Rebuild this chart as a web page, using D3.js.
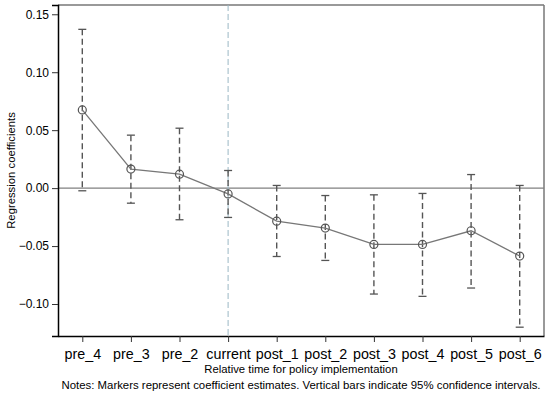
<!DOCTYPE html>
<html>
<head>
<meta charset="utf-8">
<script src="https://cdn.jsdelivr.net/npm/d3@7"></script>
<style>
  body { margin: 0; background: #fff; }
  text { font-family: "Liberation Sans", Arial, sans-serif; fill: #000; }
</style>
</head>
<body>
<script>
// event-study estimates
var periods = ["pre_4", "pre_3", "pre_2", "current", "post_1", "post_2", "post_3", "post_4", "post_5", "post_6"];
var coef  = [0.0675, 0.0164, 0.0120, -0.0050, -0.0285, -0.0345, -0.0486, -0.0486, -0.0368, -0.0586];
var upper = [0.1370, 0.0457, 0.0517, 0.0152, 0.0023, -0.0064, -0.0058, -0.0046, 0.0117, 0.0023];
var lower = [-0.0023, -0.0130, -0.0273, -0.0253, -0.0590, -0.0624, -0.0914, -0.0934, -0.0862, -0.1200];
var yTicks = [0.15, 0.10, 0.05, 0.00, -0.05, -0.10];

var width = 550, height = 393;
var margin = { top: 5, right: 6, bottom: 57, left: 58 };

var svg = d3.select("body").append("svg")
            .attr("width", width)
            .attr("height", height);

var x = d3.scaleLinear()
          .domain([0.5, periods.length + 0.5])
          .range([margin.left, width - margin.right]);
var y = d3.scaleLinear()
          .domain([-0.1276, 0.158])
          .range([height - margin.bottom, margin.top]);

var data = periods.map(function(p, i) {
    return { name: p, pos: i + 1, b: coef[i], hi: upper[i], lo: lower[i] };
});

// frame: top and right in gray
svg.append("line")
   .attr("x1", margin.left).attr("x2", width - margin.right)
   .attr("y1", margin.top).attr("y2", margin.top)
   .attr("stroke", "#777").attr("stroke-width", 1.5);
svg.append("line")
   .attr("x1", width - margin.right).attr("x2", width - margin.right)
   .attr("y1", margin.top).attr("y2", height - margin.bottom)
   .attr("stroke", "#777").attr("stroke-width", 1.5);

// zero line
svg.append("line")
   .attr("x1", margin.left).attr("x2", width - margin.right)
   .attr("y1", y(0)).attr("y2", y(0))
   .attr("stroke", "#808080").attr("stroke-width", 1.2);

// policy line at "current"
svg.append("line")
   .attr("x1", x(4)).attr("x2", x(4))
   .attr("y1", margin.top).attr("y2", height - margin.bottom)
   .attr("stroke", "#9bb7c4").attr("stroke-width", 1)
   .attr("stroke-dasharray", "6,3");

// confidence intervals
var bars = svg.append("g").classed("ci", true);
bars.selectAll("line.bar")
    .data(data)
    .enter()
      .append("line")
      .classed("bar", true)
      .attr("x1", function(d) { return x(d.pos); })
      .attr("x2", function(d) { return x(d.pos); })
      .attr("y1", function(d) { return y(d.hi); })
      .attr("y2", function(d) { return y(d.lo); })
      .attr("stroke", "#555").attr("stroke-width", 1.4)
      .attr("stroke-dasharray", "6,3.5");
["hi", "lo"].forEach(function(k) {
    bars.selectAll("line.cap_" + k)
        .data(data)
        .enter()
          .append("line")
          .attr("x1", function(d) { return x(d.pos) - 4; })
          .attr("x2", function(d) { return x(d.pos) + 4; })
          .attr("y1", function(d) { return y(d[k]); })
          .attr("y2", function(d) { return y(d[k]); })
          .attr("stroke", "#555").attr("stroke-width", 1.3);
});

// connecting line
var line = d3.line()
             .x(function(d) { return x(d.pos); })
             .y(function(d) { return y(d.b); });
svg.append("path")
   .datum(data)
   .attr("d", line)
   .attr("fill", "none")
   .attr("stroke", "#777").attr("stroke-width", 1.3);

// markers
svg.selectAll("circle.pt")
   .data(data)
   .enter()
     .append("circle")
     .classed("pt", true)
     .attr("cx", function(d) { return x(d.pos); })
     .attr("cy", function(d) { return y(d.b); })
     .attr("r", 4)
     .attr("fill", "none")
     .attr("stroke", "#555").attr("stroke-width", 1.2);

// y axis
var yAxis = svg.append("g")
   .attr("transform", "translate(" + margin.left + ",0)")
   .call(d3.axisLeft(y).tickValues(yTicks).tickFormat(d3.format(".2f")).tickSize(6).tickPadding(3));
yAxis.select(".domain").attr("stroke", "#000").attr("stroke-width", 1.5);
yAxis.selectAll(".tick line").attr("stroke", "#333");
yAxis.selectAll("text").style("font-size", "12px").attr("fill", "#000")
     .text(function(d) { return d3.format(".2f")(d).replace("-", "\u2212"); });

// x axis
var xAxis = svg.append("g")
   .attr("transform", "translate(0," + (height - margin.bottom) + ")")
   .call(d3.axisBottom(x).tickValues(d3.range(1, periods.length + 1))
           .tickFormat(function(d) { return periods[d - 1]; })
           .tickSize(6).tickPadding(7).tickSizeOuter(0));
xAxis.select(".domain").attr("stroke", "#000").attr("stroke-width", 1.5);
xAxis.selectAll(".tick line").attr("stroke", "#333");
xAxis.selectAll("text").style("font-size", "14.3px").attr("fill", "#000");

// titles
svg.append("text")
   .attr("transform", "translate(15," + ((margin.top + height - margin.bottom) / 2) + ") rotate(-90)")
   .attr("text-anchor", "middle")
   .style("font-size", "11.3px")
   .text("Regression coefficients");

svg.append("text")
   .attr("x", (margin.left + width - margin.right) / 2)
   .attr("y", 373)
   .attr("text-anchor", "middle")
   .style("font-size", "11.3px")
   .text("Relative time for policy implementation");

svg.append("text")
   .attr("x", (margin.left + width - margin.right) / 2)
   .attr("y", 389)
   .attr("text-anchor", "middle")
   .style("font-size", "11.4px")
   .text("Notes: Markers represent coefficient estimates. Vertical bars indicate 95% confidence intervals.");
</script>
</body>
</html>
